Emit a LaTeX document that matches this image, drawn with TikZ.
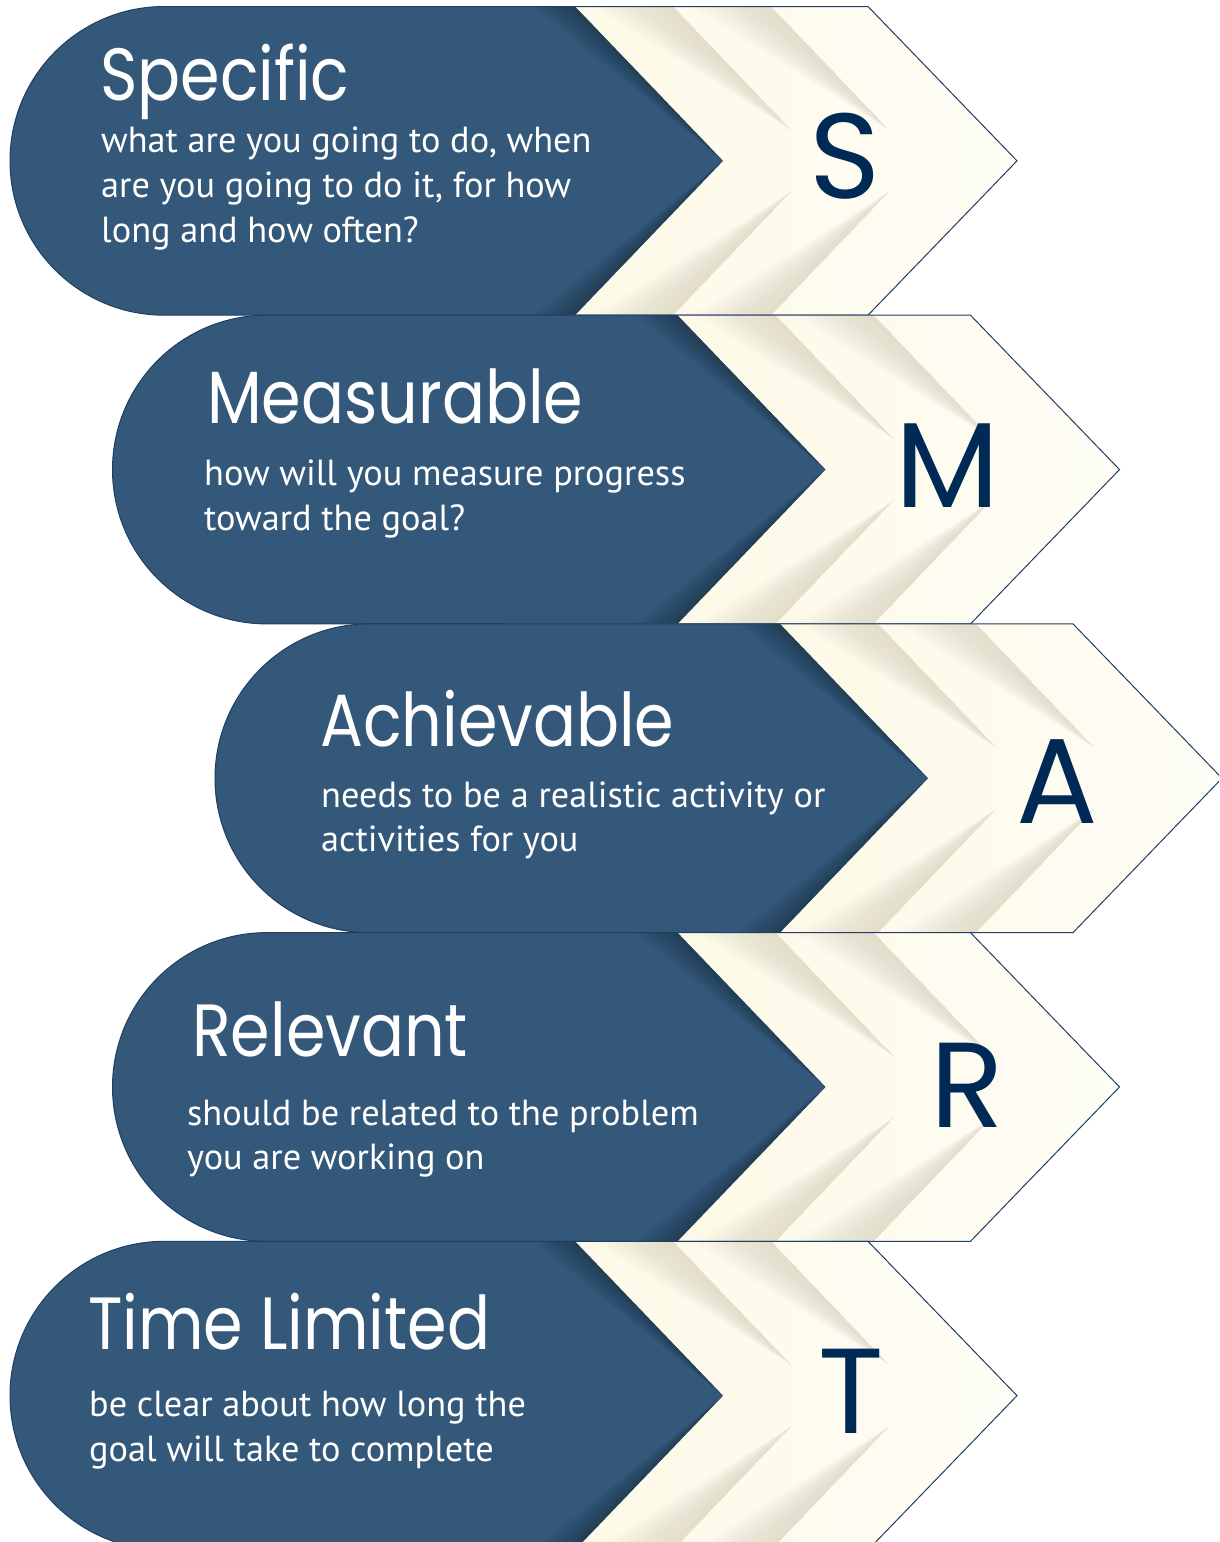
\documentclass[tikz,border=0pt]{standalone}
\usepackage{fontspec}
\newfontfamily\titlefont{Poppins}[FakeStretch=0.86]
\newfontfamily\bodyfont{PT Sans}
\newfontfamily\letterfont{Poppins}

\definecolor{smartblue}{RGB}{52,88,122}
\definecolor{smartedge}{RGB}{31,62,100}
\definecolor{smartnavy}{RGB}{0,42,86}
\definecolor{creamA}{RGB}{253,247,222}
\definecolor{creamB}{RGB}{254,253,246}
\definecolor{shadowtone}{RGB}{150,145,110}

\tikzset{
  titletext/.style={anchor=base west, inner sep=0pt, text=white,
    font=\titlefont\fontsize{74}{80}\selectfont},
  bodytext/.style={anchor=base west, inner sep=0pt, text=white,
    font=\bodyfont\fontsize{36.3}{44}\selectfont},
  lettertext/.style={anchor=center, inner sep=0pt, text=smartnavy,
    font=\letterfont\fontsize{121}{130}\selectfont},
  outline/.style={draw=smartedge, line width=1pt},
}

% One band: cream chevrons with soft shadows, then the blue rounded arrow.
% #1 = horizontal shift, #2 = top of the band
\newcommand\smartband[2]{%
  \begin{scope}[shift={(#1,#2)}]
    \shade[left color=creamA, right color=creamB]
      (300,0) -- (868,0) -- (1017,154.35) -- (868,308.7) -- (300,308.7) -- cycle;
    \foreach \e in {673,771} {
      \foreach \i in {1,...,18} {
        \fill[shadowtone, opacity=0.012]
          (\e,0) -- (\e+118,123.5) -- (\e-4.5*\i,0) -- cycle;
        \fill[shadowtone, opacity=0.012]
          (\e,308.7) -- (\e+118,185.2) -- (\e-4.5*\i,308.7) -- cycle;
      }
    }
    \draw[outline] (575,0) -- (868,0) -- (1017,154.35) -- (868,308.7) -- (575,308.7);
    \fill[smartblue] (575,0) -- (723,154.35) -- (575,308.7) -- (164.35,308.7)
      arc[start angle=90, end angle=270, radius=154.35] -- cycle;
    \foreach \i in {1,...,12} {
      \fill[black, opacity=0.025] (575,0) -- (723,154.35) -- (575-3.5*\i,0) -- cycle;
      \fill[black, opacity=0.025] (575,308.7) -- (723,154.35) -- (575-3.5*\i,308.7) -- cycle;
    }
    \draw[outline] (575,0) -- (164.35,0)
      arc[start angle=270, end angle=90, radius=154.35] -- (575,308.7);
  \end{scope}%
}

\begin{document}
\begin{tikzpicture}[x=1pt, y=-1pt]
  \useasboundingbox (0,0) rectangle (1219,1542);
  \begin{scope}
    \clip (0,0) rectangle (1219,1542);
    \smartband{0}{6.5}
    \smartband{102.5}{315.2}
    \smartband{205}{623.9}
    \smartband{102.5}{932.6}
    \smartband{0}{1241.3}
  \end{scope}

  % Specific
  \node[titletext] (specific) at (100,100) {Specific};
  \node[bodytext] (s1) at (101,152) {what are you going to do, when};
  \node[bodytext] (s2) at (101,197) {are you going to do it, for how};
  \node[bodytext] (s3) at (101,242) {long and how often?};
  \node[lettertext] (S) at (845,156) {S};

  % Measurable
  \node[titletext] (measurable) at (207,423) {Measurable};
  \node[bodytext] (m1) at (204,485) {how will you measure progress};
  \node[bodytext] (m2) at (204,530) {toward the goal?};
  \node[lettertext] (M) at (948,466) {M};

  % Achievable
  \node[titletext] (achievable) at (320,746) {Achievable};
  \node[bodytext] (a1) at (321,807) {needs to be a realistic activity or};
  \node[bodytext] (a2) at (321,851) {activities for you};
  \node[lettertext] (A) at (1057,782) {A};

  % Relevant
  \node[titletext] (relevant) at (192,1056) {Relevant};
  \node[bodytext] (r1) at (187,1125) {should be related to the problem};
  \node[bodytext] (r2) at (187,1169) {you are working on};
  \node[lettertext] (R) at (967,1085) {R};

  % Time Limited
  \node[titletext] (timelimited) at (88,1349) {Time Limited};
  \node[bodytext] (t1) at (89,1416) {be clear about how long the};
  \node[bodytext] (t2) at (89,1461) {goal will take to complete};
  \node[lettertext] (T) at (851,1391) {T};
\end{tikzpicture}
\end{document}
